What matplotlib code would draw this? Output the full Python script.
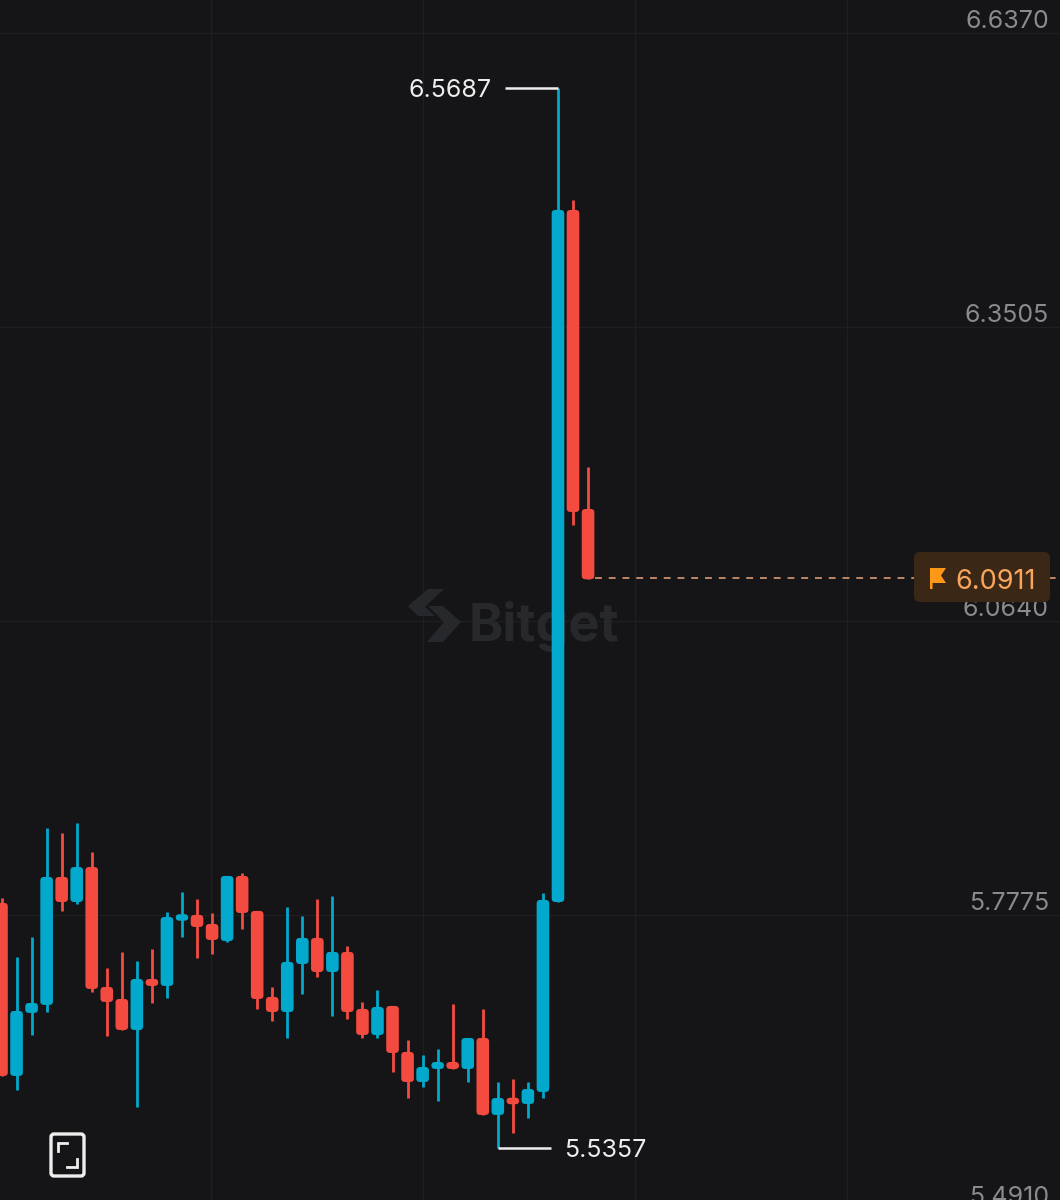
import matplotlib as mpl
mpl.use("Agg")
import matplotlib.pyplot as plt
from matplotlib.patches import FancyBboxPatch, Polygon
from matplotlib.transforms import Affine2D

plt.rcParams['font.family'] = ['Inter', 'DejaVu Sans']

# candles, oldest first
opens = [5.7746, 5.6060, 5.6674, 5.6752, 5.7999, 5.7755, 5.8096, 5.6927, 5.6810, 5.6508,
         5.7005, 5.6937, 5.7580, 5.7629, 5.7541, 5.7375, 5.8009, 5.7668, 5.6830, 5.6683,
         5.7151, 5.7405, 5.7073, 5.7268, 5.6713, 5.6459, 5.6742, 5.6294, 5.6001, 5.6128,
         5.6196, 5.6128, 5.6430, 5.5680, 5.5845, 5.5787, 5.5904, 5.7755, 6.4499, 6.1585]
highs = [5.7794, 5.7219, 5.7414, 5.8476, 5.8428, 5.8525, 5.8243, 5.7112, 5.7268, 5.7180,
         5.7297, 5.7658, 5.7853, 5.7785, 5.7648, 5.8009, 5.8038, 5.7668, 5.6927, 5.7707,
         5.7619, 5.7785, 5.7814, 5.7327, 5.6781, 5.6898, 5.6742, 5.6411, 5.6264, 5.6323,
         5.6761, 5.6430, 5.6713, 5.6001, 5.6030, 5.6001, 5.7843, 6.5687, 6.4596, 6.1994]
lows = [5.6060, 5.5923, 5.6459, 5.6683, 5.7668, 5.7736, 5.6878, 5.6450, 5.6508, 5.5758,
        5.6771, 5.6820, 5.7414, 5.7210, 5.7249, 5.7366, 5.7492, 5.6713, 5.6596, 5.6430,
        5.6859, 5.7024, 5.6644, 5.6615, 5.6430, 5.6430, 5.6099, 5.5845, 5.5952, 5.5816,
        5.6128, 5.6001, 5.5680, 5.5357, 5.5504, 5.5650, 5.5845, 5.7755, 6.1429, 6.0900]
closes = [5.6060, 5.6693, 5.6771, 5.7999, 5.7755, 5.8096, 5.6908, 5.6781, 5.6508, 5.7005,
          5.6937, 5.7609, 5.7629, 5.7512, 5.7385, 5.8009, 5.7648, 5.6810, 5.6683, 5.7171,
          5.7405, 5.7073, 5.7268, 5.6683, 5.6459, 5.6732, 5.6284, 5.6001, 5.6147, 5.6196,
          5.6128, 5.6430, 5.5680, 5.5845, 5.5787, 5.5933, 5.7775, 6.4499, 6.1556, 6.0900]

tick_prices = [6.6370, 6.3505, 6.0640, 5.7775, 5.4910]
tick_labels = ['6.6370', '6.3505', '6.0640', '5.7775', '5.4910']
# the platform draws its grid a little below each price label
grid_prices = [6.6224, 6.3359, 6.0494, 5.7629]
grid_times = [13.93, 28.03, 42.15, 56.25]

high_price = 6.5687
high_index = 37
low_price = 5.5357
low_index = 33
last_price = 6.0911

BG = '#151517'
BLUE = '#03a9cc'
RED = '#f44b41'
GRID = '#1f1f22'
WHITE = '#eeeeee'

fig = plt.figure(figsize=(10.6, 12), dpi=100, facecolor=BG)
ax = fig.add_axes([0, 0, 1, 1], facecolor=BG)
ax.set_xlim(-0.1, 70.38)
ax.set_ylim(5.4851, 6.6545)
ax.axis('off')

# pixel coordinates, origin top left, for the screen furniture
px = Affine2D().scale(1, -1).translate(0, 1200)

# ================================
# grid and watermark
# ================================
for p in grid_prices:
    ax.axhline(p, color=GRID, lw=1, zorder=1)
for t in grid_times:
    ax.axvline(t, color=GRID, lw=1, zorder=1)

mark = '#27282c'
ax.add_patch(Polygon([(428, 589), (444, 589), (425, 607), (435, 616), (418, 616), (408, 606)],
                     transform=px, fc=mark, ec='none', zorder=2))
ax.add_patch(Polygon([(427, 642), (443, 642), (461, 622), (443, 606), (428, 606), (444, 622)],
                     transform=px, fc=mark, ec='none', zorder=2))
ax.text(469, 641, 'Bitget', transform=px, color=mark, fontsize=37.5, fontweight='bold',
        ha='left', va='baseline', zorder=2)

# ================================
# candles
# ================================
xdata_per_px = 70.48 / 1060
ydata_per_px = (6.6545 - 5.4851) / 1200
body_w = 12.6 * xdata_per_px
min_h = 6.5 * ydata_per_px

ax.axhline(last_price, xmin=595 / 1060, color='#eaa67c', lw=1.1, dashes=(4.5, 4.5), zorder=2)

for i, (o, h, l, c) in enumerate(zip(opens, highs, lows, closes)):
    color = BLUE if c >= o else RED
    ax.plot([i, i], [l, h], color=color, lw=2, solid_capstyle='butt', zorder=3)
    top, bottom = max(o, c), min(o, c)
    height = max(top - bottom, min_h)
    mid = (top + bottom) / 2
    ax.add_patch(FancyBboxPatch((i - body_w / 2, mid - height / 2), body_w, height,
                                boxstyle=f'round,pad=0,rounding_size={3.6 * xdata_per_px}',
                                mutation_aspect=ydata_per_px / xdata_per_px,
                                fc=color, ec='none', zorder=4))

# ================================
# high / low callouts
# ================================
ax.plot([high_index - 53 * xdata_per_px, high_index], [high_price, high_price],
        color=WHITE, lw=1.8, solid_capstyle='butt', zorder=5)
ax.text(high_index - 66 * xdata_per_px, high_price, f'{high_price:.4f}', color=WHITE,
        fontsize=18, ha='right', va='center_baseline', zorder=5)
ax.plot([low_index, low_index + 53 * xdata_per_px], [low_price, low_price],
        color=WHITE, lw=1.8, solid_capstyle='butt', zorder=5)
ax.text(low_index + 66 * xdata_per_px, low_price, f'{low_price:.4f}', color=WHITE,
        fontsize=18, ha='left', va='center_baseline', zorder=5)

# ================================
# price axis and last price tag
# ================================
for p, label in zip(tick_prices, tick_labels):
    ax.text(1049, ax.transData.transform((0, p))[1] - 1, label, transform=None, color='#8b8b8f',
            fontsize=18, ha='right', va='center_baseline', zorder=5)

ax.add_patch(FancyBboxPatch((914, 552), 136, 50, transform=px,
                            boxstyle='round,pad=0,rounding_size=6',
                            fc='#3a2715', ec='none', zorder=6))
ax.add_patch(Polygon([(930, 568), (946, 568), (941, 575.5), (946, 583), (932.5, 583),
                      (932.5, 589), (930, 589)],
                     transform=px, fc='#ff9718', ec='none', zorder=7))
ax.text(955, 579, f'{last_price:.4f}', transform=px, color='#f9a55c', fontsize=19.5,
        ha='left', va='center_baseline', zorder=7)

# ================================
# fullscreen button
# ================================
ax.add_patch(FancyBboxPatch((51, 1134), 33, 42, transform=px,
                            boxstyle='round,pad=0,rounding_size=3',
                            fc='none', ec=WHITE, lw=2.4, zorder=6))
ax.plot([58, 58, 67], [1151, 1143, 1143], transform=px, color=WHITE, lw=2,
        solid_joinstyle='miter', zorder=6)
ax.plot([67, 76.5, 76.5], [1167, 1167, 1159], transform=px, color=WHITE, lw=2,
        solid_joinstyle='miter', zorder=6)

fig.savefig('out.png', dpi=100, facecolor=BG)
plt.close()
